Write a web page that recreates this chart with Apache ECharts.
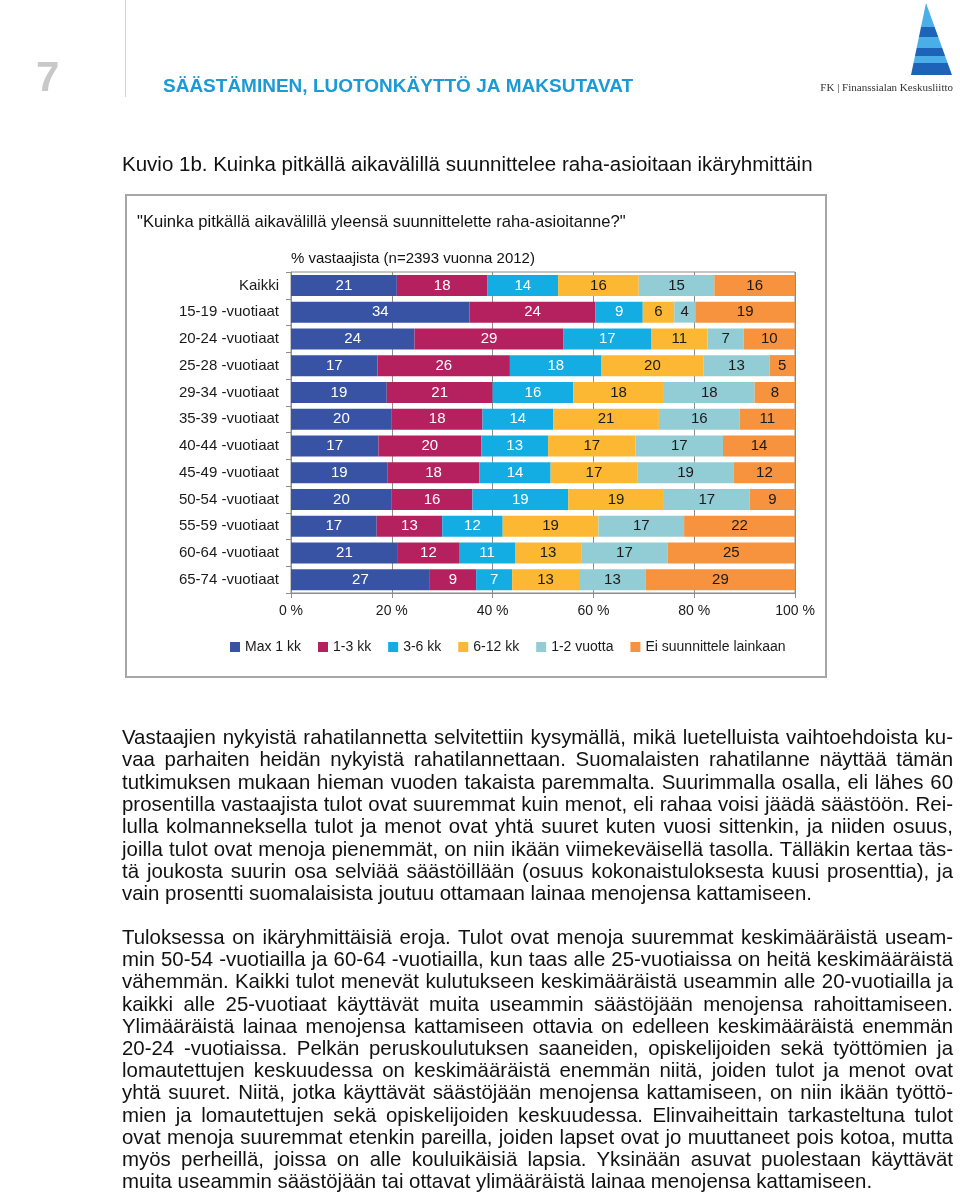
<!DOCTYPE html>
<html>
<head>
<meta charset="utf-8">
<script src="https://cdn.jsdelivr.net/npm/echarts@6/dist/echarts.min.js"></script>
<style>
  html, body { margin:0; padding:0; background:#fff; }
  #chart { position:absolute; left:0; top:0; width:960px; height:1195px; }
  .para { position:absolute; left:122px; width:831px; font-family:"Liberation Sans", Arial, sans-serif; font-size:21px; color:#111; }
  .ln { position:absolute; left:0; white-space:nowrap; height:22px; line-height:22px; transform-origin:0 50%; }
</style>
</head>
<body>
<div id="chart"></div>
<div class="para" id="p1" style="top:726px"></div>
<div class="para" id="p2" style="top:926px"></div>
<script>
// ---- data ----
const categories = ['Kaikki','15-19 -vuotiaat','20-24 -vuotiaat','25-28 -vuotiaat','29-34 -vuotiaat','35-39 -vuotiaat','40-44 -vuotiaat','45-49 -vuotiaat','50-54 -vuotiaat','55-59 -vuotiaat','60-64 -vuotiaat','65-74 -vuotiaat'];
const seriesNames = ['Max 1 kk','1-3 kk','3-6 kk','6-12 kk','1-2 vuotta','Ei suunnittele lainkaan'];
const max1kk  = [21,34,24,17,19,20,17,19,20,17,21,27];
const kk1_3   = [18,24,29,26,21,18,20,18,16,13,12,9];
const kk3_6   = [14,9,17,18,16,14,13,14,19,12,11,7];
const kk6_12  = [16,6,11,20,18,21,17,17,19,19,13,13];
const v1_2    = [15,4,7,13,18,16,17,19,17,17,17,13];
const eiSuun  = [16,19,10,5,8,11,14,12,9,22,25,29];
const xTicks  = [0,20,40,60,80,100];

const allSeries = [max1kk,kk1_3,kk3_6,kk6_12,v1_2,eiSuun];
const colors = ['#3953a4','#b5215f','#14ade3','#fcb833','#92cdd5','#f7923f'];
const labelColors = ['#fff','#fff','#fff','#1a1a1a','#1a1a1a','#1a1a1a'];
const rowSums = categories.map((c,i)=>allSeries.reduce((s,a)=>s+a[i],0));

const FONT = '"Liberation Sans", Arial, sans-serif';

// logo bands
function L(y){ return 926 - 15*(y-3)/72; }
function R(y){ return 926 + 26*(y-3)/72; }
function band(y1,y2,color){
  return {type:'polygon', shape:{points:[[L(y1),y1],[R(y1),y1],[R(y2),y2],[L(y2),y2]]}, style:{fill:color}};
}
function txt(text,x,y,font,fill,align){
  return {type:'text', style:{text, x, y, font, fill, align:align||'left', verticalAlign:'middle', textAlign:align||'left', textVerticalAlign:'middle'}};
}

const chart = echarts.init(document.getElementById('chart'), null, {renderer:'canvas'});
chart.setOption({
  animation:false,
  textStyle:{fontFamily:FONT},
  grid:{left:291, top:272, width:504, height:321, show:true, borderColor:'#8c8c8c', borderWidth:1},
  legend:{
    data:seriesNames, left:230, top:640, itemWidth:10, itemHeight:10, itemGap:17, icon:'rect', padding:0,
    textStyle:{fontSize:14, color:'#1a1a1a', fontFamily:FONT}
  },
  xAxis:{
    type:'value', min:xTicks[0], max:xTicks[xTicks.length-1], interval:20,
    axisLabel:{formatter:'{value} %', fontSize:14, color:'#1a1a1a', margin:11, fontFamily:FONT},
    axisLine:{show:true, lineStyle:{color:'#8c8c8c'}},
    axisTick:{show:true, length:5, lineStyle:{color:'#8c8c8c'}},
    splitLine:{show:true, lineStyle:{color:'#8c8c8c', width:1}}
  },
  yAxis:{
    type:'category', data:categories, inverse:true,
    axisLine:{show:true, lineStyle:{color:'#8c8c8c'}},
    axisTick:{show:true, length:5, lineStyle:{color:'#8c8c8c'}},
    axisLabel:{fontSize:15, color:'#1a1a1a', margin:12, fontFamily:FONT}
  },
  series: seriesNames.map((name,si)=>({
    name, type:'bar', stack:'total', barWidth:21,
    itemStyle:{color:colors[si]},
    label:{show:true, position:'inside', color:labelColors[si], fontSize:15, fontFamily:FONT,
      formatter:(p)=>String(allSeries[si][p.dataIndex])},
    data: allSeries[si].map((v,i)=>v/rowSums[i]*100)
  })),
  graphic:[
    txt('7', 36, 79, 'bold 42px '+FONT, '#c8c8c8'),
    {type:'line', shape:{x1:125.5,y1:0,x2:125.5,y2:97}, style:{stroke:'#d4d4d4', lineWidth:1}},
    txt('SÄÄSTÄMINEN, LUOTONKÄYTTÖ JA MAKSUTAVAT', 163, 87, 'bold 19px '+FONT, '#1c9ad6'),
    band(3,27,'#4aaee8'), band(27,37,'#1d64b9'), band(37,48,'#4aaee8'), band(48,56,'#1d64b9'), band(56,63,'#4aaee8'), band(63,75,'#1d64b9'),
    txt('FK | Finanssialan Keskusliitto', 953, 88, '11px "Liberation Serif", serif', '#333', 'right'),
    txt('Kuvio 1b. Kuinka pitkällä aikavälillä suunnittelee raha-asioitaan ikäryhmittäin', 122, 165, '20.5px '+FONT, '#111'),
    {type:'rect', shape:{x:126, y:195, width:700, height:482}, style:{fill:'none', stroke:'#a6a6a6', lineWidth:2}},
    txt('"Kuinka pitkällä aikavälillä yleensä suunnittelette raha-asioitanne?"', 137, 222, '16.6px '+FONT, '#111'),
    txt('% vastaajista (n=2393 vuonna 2012)', 291, 259, '15px '+FONT, '#111')
  ]
});

// ---- body text ----
const para1 = [
  'Vastaajien nykyistä rahatilannetta selvitettiin kysymällä, mikä luetelluista vaihtoehdoista ku-',
  'vaa parhaiten heidän nykyistä rahatilannettaan. Suomalaisten rahatilanne näyttää tämän',
  'tutkimuksen mukaan hieman vuoden takaista paremmalta. Suurimmalla osalla, eli lähes 60',
  'prosentilla vastaajista tulot ovat suuremmat kuin menot, eli rahaa voisi jäädä säästöön. Rei-',
  'lulla kolmanneksella tulot ja menot ovat yhtä suuret kuten vuosi sittenkin, ja niiden osuus,',
  'joilla tulot ovat menoja pienemmät, on niin ikään viimekeväisellä tasolla. Tälläkin kertaa täs-',
  'tä joukosta suurin osa selviää säästöillään (osuus kokonaistuloksesta kuusi prosenttia), ja',
  'vain prosentti suomalaisista joutuu ottamaan lainaa menojensa kattamiseen.'
];
const para2 = [
  'Tuloksessa on ikäryhmittäisiä eroja. Tulot ovat menoja suuremmat keskimääräistä useam-',
  'min 50-54 -vuotiailla ja 60-64 -vuotiailla, kun taas alle 25-vuotiaissa on heitä keskimääräistä',
  'vähemmän. Kaikki tulot menevät kulutukseen keskimääräistä useammin alle 20-vuotiailla ja',
  'kaikki alle 25-vuotiaat käyttävät muita useammin säästöjään menojensa rahoittamiseen.',
  'Ylimääräistä lainaa menojensa kattamiseen ottavia on edelleen keskimääräistä enemmän',
  '20-24 -vuotiaissa. Pelkän peruskoulutuksen saaneiden, opiskelijoiden sekä työttömien ja',
  'lomautettujen keskuudessa on keskimääräistä enemmän niitä, joiden tulot ja menot ovat',
  'yhtä suuret. Niitä, jotka käyttävät säästöjään menojensa kattamiseen, on niin ikään työttö-',
  'mien ja lomautettujen sekä opiskelijoiden keskuudessa. Elinvaiheittain tarkasteltuna tulot',
  'ovat menoja suuremmat etenkin pareilla, joiden lapset ovat jo muuttaneet pois kotoa, mutta',
  'myös perheillä, joissa on alle kouluikäisiä lapsia. Yksinään asuvat puolestaan käyttävät',
  'muita useammin säästöjään tai ottavat ylimääräistä lainaa menojensa kattamiseen.'
];
const W = 831;
function makeLines(id, lines, step){
  const host = document.getElementById(id);
  return lines.map((t,i)=>{
    const d = document.createElement('span');
    d.className='ln'; d.textContent=t; d.style.top=(i*step)+'px';
    host.appendChild(d);
    return {el:d, t, w:d.getBoundingClientRect().width, last:i===lines.length-1};
  });
}
const L1 = makeLines('p1', para1, 22.3);
const L2 = makeLines('p2', para2, 22.2);
// global horizontal factor so the free-ending last line of paragraph 1 spans ~690px like the source
const S = 690 / L1[L1.length-1].w;
[...L1, ...L2].forEach(o=>{
  if(o.last){ o.el.style.transform='scaleX('+S+')'; return; }
  if(o.w*S > W){ o.el.style.transform='scaleX('+(W/o.w)+')'; return; }
  const n=(o.t.match(/ /g)||[]).length;
  o.el.style.transform='scaleX('+S+')';
  o.el.style.wordSpacing=((W/S - o.w)/n)+'px';
});
</script>
</body>
</html>
